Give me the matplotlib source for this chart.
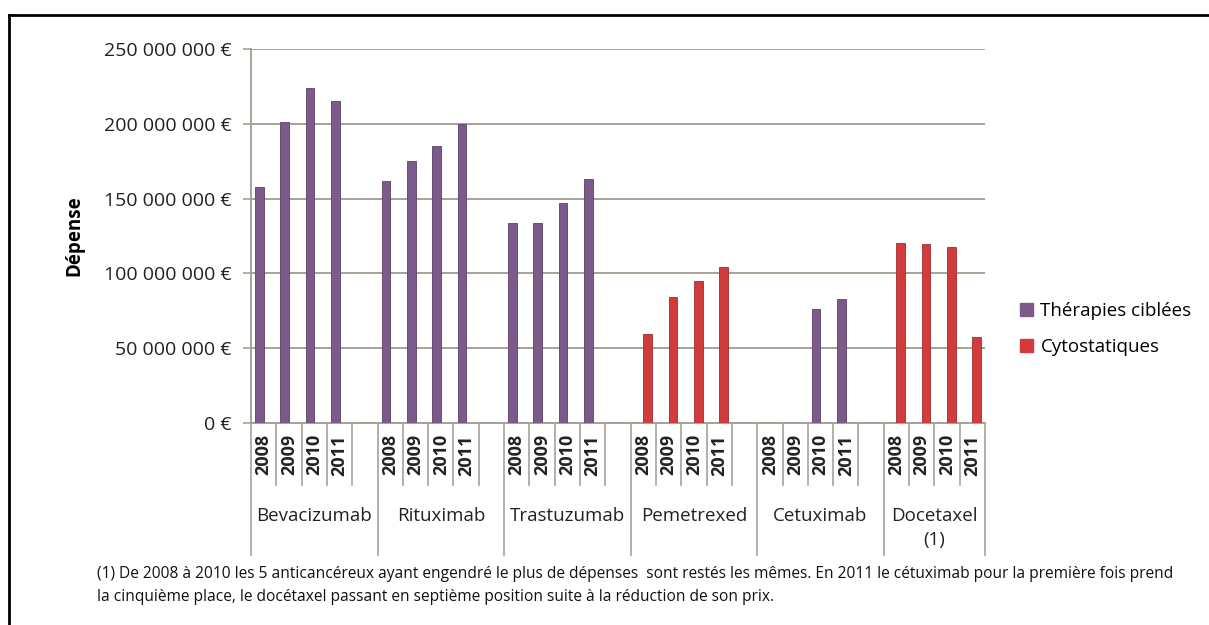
"""
Dépenses des anticancéreux 2008-2011: thérapies ciblées vs cytostatiques.
"""

import numpy as np
import matplotlib
matplotlib.use("Agg")
import matplotlib.pyplot as plt
from matplotlib.lines import Line2D
from matplotlib.patches import Patch

DRUGS = ["Bevacizumab", "Rituximab", "Trastuzumab", "Pemetrexed", "Cetuximab", "Docetaxel\n(1)"]
YEARS = ["2008", "2009", "2010", "2011"]

# spending in euros, NaN = no bar
CIBLEES = [
    [158e6, 201e6, 224e6, 215e6],        # Bevacizumab
    [162e6, 175e6, 185e6, 200e6],        # Rituximab
    [134e6, 133.5e6, 147e6, 163e6],      # Trastuzumab
    [np.nan, np.nan, np.nan, np.nan],    # Pemetrexed
    [np.nan, np.nan, 76e6, 83e6],        # Cetuximab
    [np.nan, np.nan, np.nan, np.nan],    # Docetaxel
]
CYTO = [
    [np.nan] * 4,
    [np.nan] * 4,
    [np.nan] * 4,
    [59.5e6, 84e6, 95e6, 104e6],
    [np.nan] * 4,
    [120.5e6, 119.5e6, 117.5e6, 57.5e6],
]
YTICKS = [0, 50e6, 100e6, 150e6, 200e6, 250e6]

FOOTNOTE = ("(1) De 2008 à 2010 les 5 anticancéreux ayant engendré le plus de dépenses  sont restés les mêmes. "
            "En 2011 le cétuximab pour la première fois prend\n"
            "la cinquième place, le docétaxel passant en septième position suite à la réduction de son prix.")

PURPLE = "#7d5a8c"
RED = "#d13b3b"
GRID = "#a8a196"
FONT = ["Open Sans", "DejaVu Sans"]


def fmt_euro(v):
    if v == 0:
        return "0 €"
    return f"{int(v):,} €".replace(",", " ")


def main():
    plt.rcParams["font.family"] = FONT
    fig = plt.figure(figsize=(12.09, 6.25), dpi=100)
    ax = fig.add_axes([251 / 1209, 1 - 423 / 625, (985 - 251) / 1209, (423 - 49) / 625])

    n_slots = len(DRUGS) * 5 - 1
    w = 0.34
    for g in range(len(DRUGS)):
        x = g * 5 + np.arange(len(YEARS))
        ax.bar(x - w / 2, CIBLEES[g], width=w, color=PURPLE, edgecolor="#5e4169", linewidth=0.6, zorder=3)
        ax.bar(x + w / 2, CYTO[g], width=w, color=RED, edgecolor="#a52a2a", linewidth=0.6, zorder=3)

    ax.set_xlim(-0.5, n_slots - 0.5)
    ax.set_ylim(0, 250e6)
    ax.set_yticks(YTICKS)
    ax.set_yticklabels([fmt_euro(v) for v in YTICKS], fontsize=14, color="#222222")
    ax.yaxis.grid(True, color=GRID, linewidth=1.4, zorder=0)
    ax.tick_params(axis="y", length=6, width=1.2, color=GRID, pad=8)
    ax.set_xticks([])
    for side in ["top", "right"]:
        ax.spines[side].set_visible(False)
    for side in ["left", "bottom"]:
        ax.spines[side].set_color(GRID)
        ax.spines[side].set_linewidth(1.4)
    ax.set_ylabel("Dépense", fontsize=13.5, fontweight="bold", labelpad=14)

    # category table under the axis
    trans = ax.get_xaxis_transform()
    for g, name in enumerate(DRUGS):
        start = g * 5
        for i, yr in enumerate(YEARS):
            ax.text(start + i, -0.03, yr, rotation=90, ha="center", va="top",
                    fontsize=13, fontweight="bold", color="#222222", transform=trans)
        # short separators between years
        for i in range(1, 5):
            if start + i - 0.5 >= n_slots - 0.5:
                continue
            ax.add_line(Line2D([start + i - 0.5] * 2, [0, -0.166], transform=trans,
                               color=GRID, linewidth=1.2, clip_on=False))
        # long group separator
        ax.add_line(Line2D([start - 0.5] * 2, [0, -0.353], transform=trans,
                           color=GRID, linewidth=1.2, clip_on=False))
        end = min(start + 4.5, n_slots - 0.5)
        center = (start - 0.5 + end) / 2
        ax.text(center, -0.225, name, ha="center", va="top", fontsize=13.5,
                color="#222222", transform=trans, linespacing=1.45)
    ax.add_line(Line2D([n_slots - 0.5] * 2, [0, -0.353], transform=trans,
                       color=GRID, linewidth=1.2, clip_on=False))

    handles = [Patch(facecolor=PURPLE, edgecolor=PURPLE), Patch(facecolor=RED, edgecolor=RED)]
    fig.legend(handles, ["Thérapies ciblées", "Cytostatiques"], loc="center left",
               bbox_to_anchor=(1003 / 1209, 1 - 329 / 625), frameon=False, fontsize=13.5,
               handlelength=0.7, handleheight=0.7, handletextpad=0.4, labelspacing=1.0)

    fig.text(97 / 1209, 1 - 566 / 625, FOOTNOTE, ha="left", va="top", fontsize=11.2,
             color="#111111", linespacing=1.55)

    # outer frame: top and left edges
    fig.add_artist(Line2D([9 / 1209, 1], [1 - 15 / 625] * 2, transform=fig.transFigure,
                          color="black", linewidth=2))
    fig.add_artist(Line2D([9 / 1209] * 2, [0, 1 - 15 / 625], transform=fig.transFigure,
                          color="black", linewidth=2))

    fig.savefig("out.png", dpi=100)
    plt.close(fig)


if __name__ == "__main__":
    main()
